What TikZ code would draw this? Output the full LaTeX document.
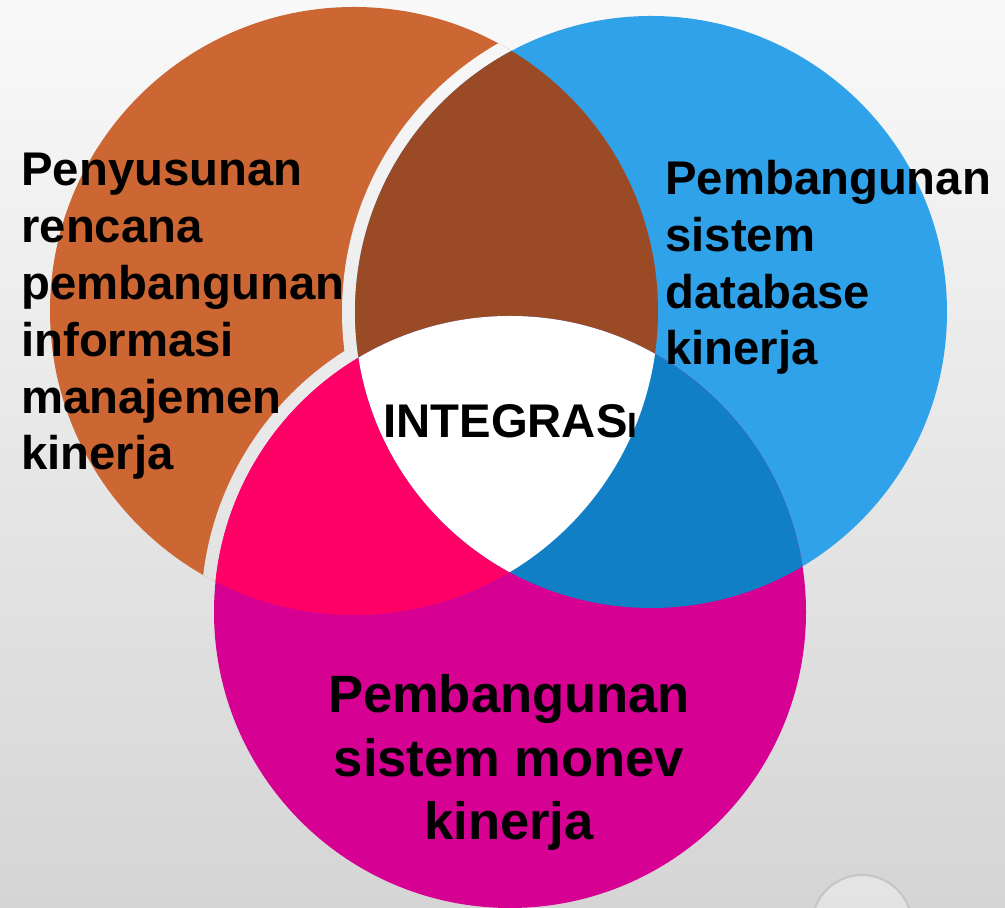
\documentclass[tikz,border=0pt]{standalone}
\usepackage{fontspec}
\setmainfont{Liberation Sans}
\usetikzlibrary{positioning}

\definecolor{bgtop}{HTML}{F9F9F9}
\definecolor{bgbot}{HTML}{D5D5D5}
\definecolor{corange}{HTML}{CC6633}
\definecolor{cblue}{HTML}{30A2EA}
\definecolor{cmagenta}{HTML}{D60093}
\definecolor{cbrown}{HTML}{9A4B25}
\definecolor{cpink}{HTML}{FF0066}
\definecolor{cdblue}{HTML}{117FC6}

\tikzset{
  sidetext/.style={inner sep=0pt, align=left, anchor=base west,
    font=\bfseries\fontsize{26.9}{32.4}\selectfont},
  bottomtext/.style={inner sep=0pt, align=center, anchor=base,
    font=\bfseries\fontsize{29.9}{36.4}\selectfont},
  backdrop/.style={top color=bgtop, bottom color=bgbot}
}

\begin{document}
\begin{tikzpicture}[x=0.02cm,y=0.02cm]
\def\orangedisc{(354,597) circle (304)}
\def\bluedisc{(651,596) circle (296)}
\def\magentadisc{(510,296) circle (296)}
% background
\shade[backdrop] (0,0) rectangle (1005,908);
\useasboundingbox (0,0) rectangle (1005,908);
% glass bubble
\fill[white,opacity=0.35] (862,-17) circle (50);
\draw[gray!45,line width=1.2pt] (862,-17) circle (50);
% the three discs, with a gap cut into the orange one
\fill[corange] \orangedisc;
\begin{scope}
\clip \orangedisc;
\clip (651,596) circle (309) (510,296) circle (309);
\shade[backdrop] (0,0) rectangle (1005,908);
\end{scope}
\fill[cblue] \bluedisc;
\fill[cmagenta] \magentadisc;
% overlaps
\begin{scope}
\clip \orangedisc;
\fill[cbrown] \bluedisc;
\fill[cpink] \magentadisc;
\end{scope}
\begin{scope}
\clip \bluedisc;
\fill[cdblue] \magentadisc;
\end{scope}
\begin{scope}
\clip \orangedisc;
\clip \bluedisc;
\fill[white] \magentadisc;
\end{scope}
% texts
\node[sidetext] (plan) at (21,438) {Penyusunan\\rencana\\pembangunan\\informasi\\manajemen\\kinerja};
\node[sidetext] (dbase) at (665,543) {Pembangunan\\sistem\\database\\kinerja};
\node[bottomtext] (monev) at (509,68) {Pembangunan\\sistem monev\\kinerja};
\node[sidetext] (integ) at (383,470) {INTEGRAS{\fontsize{20}{20}\selectfont I}};
\end{tikzpicture}
\end{document}
